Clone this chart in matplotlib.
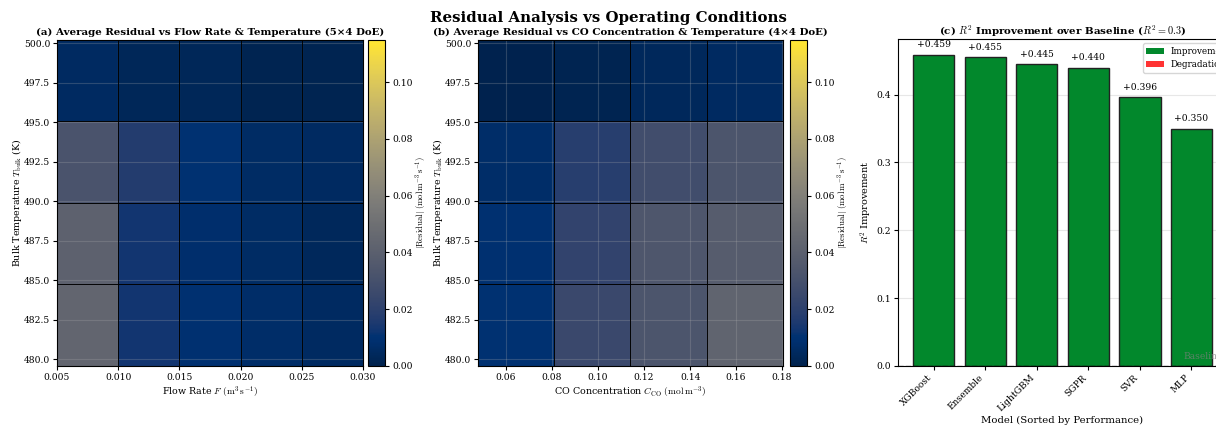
import numpy as np
import matplotlib
matplotlib.use('Agg')
import matplotlib.pyplot as plt
from matplotlib.patches import Patch

plt.rcParams['font.family'] = 'serif'
plt.rcParams['font.serif'] = ['DejaVu Serif']
plt.rcParams['mathtext.fontset'] = 'cm'

# DoE grid edges
flow_edges = [0.005, 0.010, 0.015, 0.020, 0.025, 0.030]
co_edges = [0.0478, 0.0810, 0.1141, 0.1473, 0.1804]
temp_edges = [479.56, 484.73, 489.90, 495.07, 500.24]

# mean |residual|, rows = temperature (low -> high)
res_flow = np.array([
    [0.044, 0.013, 0.009, 0.007, 0.005],
    [0.041, 0.013, 0.008, 0.006, 0.004],
    [0.032, 0.017, 0.010, 0.006, 0.005],
    [0.005, 0.003, 0.003, 0.001, 0.001],
])
res_co = np.array([
    [0.010, 0.025, 0.033, 0.043],
    [0.009, 0.022, 0.034, 0.038],
    [0.007, 0.018, 0.028, 0.033],
    [0.000, 0.001, 0.004, 0.005],
])
vmax = 0.115

models = ['XGBoost', 'Ensemble', 'LightGBM', 'SGPR', 'SVR', 'MLP']
r2_gain = [0.459, 0.455, 0.445, 0.440, 0.396, 0.350]

fig = plt.figure(figsize=(12.16, 4.29), dpi=100)
fig.suptitle('Residual Analysis vs Operating Conditions', fontsize=10.8,
             fontweight='bold', y=0.975)

ax1 = fig.add_axes([0.0469, 0.1469, 0.2516, 0.761])
cax1 = fig.add_axes([0.3026, 0.1469, 0.014, 0.761])
ax2 = fig.add_axes([0.3931, 0.1469, 0.2508, 0.761])
cax2 = fig.add_axes([0.6497, 0.1469, 0.014, 0.761])
ax3 = fig.add_axes([0.7385, 0.1469, 0.2706, 0.762])

cb_label = r'$|\mathrm{Residual}|\ (\mathrm{mol\,m^{-3}\,s^{-1}})$'
ylab = r'Bulk Temperature $T_{\rm bulk}$ (K)'

for ax, cax, xe, z, title, xlab in [
        (ax1, cax1, flow_edges, res_flow,
         '(a) Average Residual vs Flow Rate & Temperature (5×4 DoE)',
         r'Flow Rate $F\ (\mathrm{m^3\,s^{-1}})$'),
        (ax2, cax2, co_edges, res_co,
         '(b) Average Residual vs CO Concentration & Temperature (4×4 DoE)',
         r'CO Concentration $C_{\rm CO}\ (\mathrm{mol\,m^{-3}})$')]:
    m = ax.pcolormesh(xe, temp_edges, z, cmap='cividis', vmin=0, vmax=vmax)
    # cell outlines drawn above the grid
    edges = ax.pcolormesh(xe, temp_edges, z, edgecolors=(0, 0, 0, 0.75),
                          linewidth=0.5, zorder=2)
    edges.set_array(None)
    edges.set_facecolor('none')
    ax.set_xlim(xe[0], xe[-1])
    ax.set_ylim(temp_edges[0], temp_edges[-1])
    ax.grid(True, alpha=0.25)
    ax.set_title(title, fontsize=7.4, fontweight='bold', pad=3)
    ax.set_xlabel(xlab, fontsize=6.8, labelpad=2)
    ax.set_ylabel(ylab, fontsize=6.8, labelpad=0)
    ax.tick_params(labelsize=6.6, length=3, pad=2)
    cb = fig.colorbar(m, cax=cax)
    cb.set_label(cb_label, fontsize=6.3, labelpad=1)
    cb.ax.tick_params(labelsize=6.6, length=3, pad=2)

x = np.arange(len(models))
ax3.grid(True, axis='y', alpha=0.3)
ax3.set_axisbelow(True)
ax3.bar(x, r2_gain, width=0.8, color='#02882c', edgecolor='#222222', linewidth=1.0)
for xi, v in zip(x, r2_gain):
    ax3.text(xi, v + 0.008, f'+{v:.3f}', ha='center', va='bottom', fontsize=6.6)
ax3.axhline(0, color='k', ls='--', lw=1, alpha=0.5)
ax3.text(len(models) - 0.4, 0.008, 'Baseline', ha='right', va='bottom',
         fontsize=6.6, color='gray', alpha=0.7)
ax3.set_xticks(x)
ax3.set_xticklabels(models, rotation=45, ha='right')
ax3.tick_params(labelsize=6.6, length=3, pad=2)
ax3.set_xlabel('Model (Sorted by Performance)', fontsize=7.3, labelpad=2)
ax3.set_ylabel(r'$R^2$ Improvement', fontsize=7, labelpad=2)
ax3.set_title(r'(c) $R^2$ Improvement over Baseline ($R^2 = 0.3$)',
              fontsize=7.4, fontweight='bold', pad=3)
handles = [Patch(facecolor='#02882c', label='Improvement'),
           Patch(facecolor='#ff3333', label='Degradation')]
ax3.legend(handles=handles, loc='upper right', fontsize=6.3,
           bbox_to_anchor=(1.035, 1.0))

fig.savefig('out.png', dpi=100)
